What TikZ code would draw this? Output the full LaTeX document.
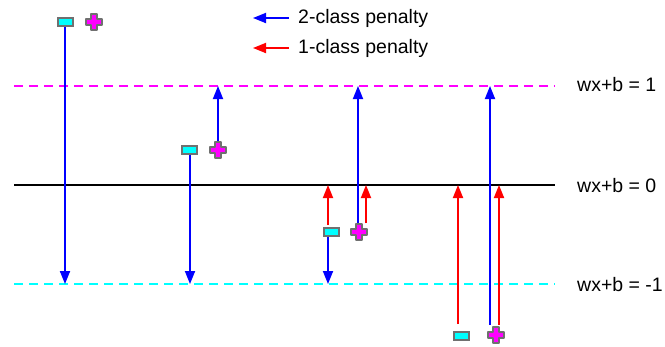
\documentclass[tikz,border=0pt]{standalone}
\usepackage{fontspec}
\setmainfont{Liberation Sans}
\usetikzlibrary{arrows.meta}

\definecolor{pblue}{HTML}{0000FF}
\definecolor{pred}{HTML}{FF0000}
\definecolor{pmag}{HTML}{FF00FF}
\definecolor{pcyan}{HTML}{00FFFF}
\definecolor{pgray}{HTML}{707070}

\tikzset{
  lbl/.style={anchor=west, inner sep=0pt, font=\fontsize{19.5}{23}\selectfont},
  marginline/.style={line width=1.6pt, dash pattern=on 9pt off 6pt},
  penalty/.style={line width=1.8pt, -{Triangle[length=13pt,width=10pt]}},
  twoclass/.style={penalty, pblue},
  oneclass/.style={penalty, pred},
  negpt/.style={draw=pgray, fill=pcyan, line width=2pt, minimum width=15pt,
    minimum height=8pt, inner sep=0pt},
  pospt/.style={inner sep=0pt, minimum size=17pt},
  crossmark/.pic={
    \draw[pgray, line width=2pt, fill=pmag, line join=round]
      (-2.8,-8) -- (2.8,-8) -- (2.8,-2.8) -- (8,-2.8) -- (8,2.8)
      -- (2.8,2.8) -- (2.8,8) -- (-2.8,8) -- (-2.8,2.8) -- (-8,2.8)
      -- (-8,-2.8) -- (-2.8,-2.8) -- cycle;
  }
}

\begin{document}
\begin{tikzpicture}[x=1pt, y=-1pt]
  \useasboundingbox (0,0) rectangle (665,346);

  % margin and decision lines
  \coordinate (m0) at (14,86);   \coordinate (m1) at (555,86);
  \coordinate (z0) at (14,185);  \coordinate (z1) at (555,185);
  \coordinate (n0) at (14,284);  \coordinate (n1) at (555,284);
  \draw[marginline, pmag] (m0) -- (m1);
  \draw[line width=2pt, black] (z0) -- (z1);
  \draw[marginline, pcyan] (n0) -- (n1);

  \node[lbl] (lp) at (577,85)  {wx+b = 1};
  \node[lbl] (lz) at (577,186) {wx+b = 0};
  \node[lbl] (ln) at (577,285) {wx+b = -1};

  % legend
  \node[lbl] (leg2) at (298,18) {2-class penalty};
  \node[lbl] (leg1) at (298,48) {1-class penalty};
  \coordinate (leg2a) at (289,18); \coordinate (leg2b) at (253,18);
  \coordinate (leg1a) at (289,48); \coordinate (leg1b) at (253,48);
  \draw[twoclass] (leg2a) -- (leg2b);
  \draw[oneclass] (leg1a) -- (leg1b);

  % sample pairs (negative box, positive cross)
  \node[negpt] (r1) at (65,22) {};
  \node[pospt] (p1) at (94,22) {}; \pic at (p1) {crossmark};
  \node[negpt] (r2) at (189,149.5) {};
  \node[pospt] (p2) at (218,150) {}; \pic at (p2) {crossmark};
  \node[negpt] (r3) at (331,231.5) {};
  \node[pospt] (p3) at (359,232) {}; \pic at (p3) {crossmark};
  \node[negpt] (r4) at (461.5,336) {};
  \node[pospt] (p4) at (496,335) {}; \pic at (p4) {crossmark};

  % targets on the lines
  \coordinate (t1) at (65,284);
  \coordinate (t2n) at (190,284);
  \coordinate (t2p) at (218,86);
  \coordinate (t3r) at (328,185);
  \coordinate (t3n) at (328,284);
  \coordinate (t3b) at (358,86);
  \coordinate (t3q) at (366,185);
  \coordinate (t4r) at (458,185);
  \coordinate (t4b) at (490,86);
  \coordinate (t4q) at (499,185);

  % penalties
  \draw[twoclass] (r1.south) -- (t1);
  \draw[twoclass] (r2.south -| t2n) -- (t2n);
  \draw[twoclass] (p2.north) -- (t2p);
  \draw[oneclass] ([yshift=1.5]r3.north -| t3r) -- (t3r);
  \draw[twoclass] (r3.south -| t3n) -- (t3n);
  \draw[twoclass] (p3.north -| t3b) -- (t3b);
  \draw[oneclass] (p3.north -| t3q) -- (t3q);
  \draw[oneclass] ([yshift=7]r4.north -| t4r) -- (t4r);
  \draw[twoclass] ([yshift=1.5]p4.north -| t4b) -- (t4b);
  \draw[oneclass] ([yshift=1.5]p4.north -| t4q) -- (t4q);
\end{tikzpicture}
\end{document}
